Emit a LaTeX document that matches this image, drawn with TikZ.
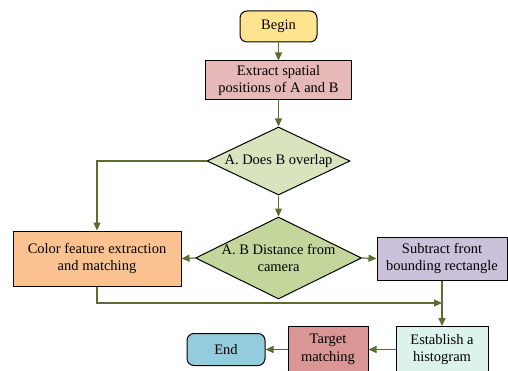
\documentclass[tikz,border=0pt]{standalone}
\usepackage{fontspec}
\setmainfont{Liberation Serif}
\newfontfamily\flowfont{Liberation Serif}
\usepackage{tikz}
\usetikzlibrary{shapes.geometric,arrows.meta}
\definecolor{flowline}{HTML}{5A6E30}
\definecolor{cBegin}{HTML}{FFE38F}
\definecolor{cExtract}{HTML}{E6B8B7}
\definecolor{cOverlap}{HTML}{D7E4BD}
\definecolor{cDist}{HTML}{C3D69B}
\definecolor{cColor}{HTML}{FAC291}
\definecolor{cSubtract}{HTML}{CCC1DA}
\definecolor{cHist}{HTML}{DBF3EC}
\definecolor{cTarget}{HTML}{DA9694}
\definecolor{cEnd}{HTML}{93CDDD}

\begin{document}
\begin{tikzpicture}[x=1pt,y=1pt,
    txt/.style={align=center,font=\flowfont\fontsize{14.5}{17.5}\selectfont},
    box/.style={txt,draw=black,line width=1pt,inner sep=0pt},
    term/.style={box,rounded corners=7pt},
    dec/.style={shape=diamond,draw=black,line width=1pt,inner sep=0pt,label={[txt]center:#1}},
    flow/.style={draw=flowline,line width=1.2pt,-{Triangle[length=8pt,width=7pt]}}]
            \useasboundingbox (0,0) rectangle (508,370);
            \clip (0,0) rectangle (508,370);
            \node[term,fill=cBegin,minimum width=77,minimum height=31] (begin) at (278.5,343.5) {Begin};
            \node[box,fill=cExtract,minimum width=146,minimum height=39] (extract) at (278.5,289.5) {Extract spatial\\positions of A and B};
            \node[dec={A. Does B overlap},fill=cOverlap,minimum width=143,minimum height=68] (overlap) at (278.5,209) {};
            \node[dec={A. B Distance from\\camera},fill=cDist,minimum width=166,minimum height=82] (dist) at (278.5,112) {};
            \node[box,fill=cColor,minimum width=168,minimum height=55] (color) at (97,111.5) {Color feature extraction\\and matching};
            \node[box,fill=cSubtract,minimum width=130,minimum height=43] (subtract) at (442,111.5) {Subtract front\\bounding rectangle};
            \node[box,fill=cHist,minimum width=92,minimum height=46] (hist) at (442,20.5) {Establish a\\histogram};
            \node[box,fill=cTarget,minimum width=80,minimum height=46] (target) at (328,20.5) {Target\\matching};
            \node[term,fill=cEnd,minimum width=78,minimum height=32] (finish) at (226,20.5) {End};
            \coordinate (merge) at (442,67);
            \draw[flow] (begin.south) -- (extract.north);
            \draw[flow] (extract.south) -- (overlap.north);
            \draw[flow] (overlap.south) -- (dist.north);
            \draw[flow] (overlap.west) -| (color.north);
            \draw[flow] (dist.west) -- (color.east);
            \draw[flow] (dist.east) -- (subtract.west);
            \draw[flow] (color.south) |- (merge);
            \draw[flow] (subtract.south) -- (hist.north);
            \draw[flow] (hist.west) -- (target.east);
            \draw[flow] (target.west) -- (finish.east);
        \end{tikzpicture}
\end{document}
